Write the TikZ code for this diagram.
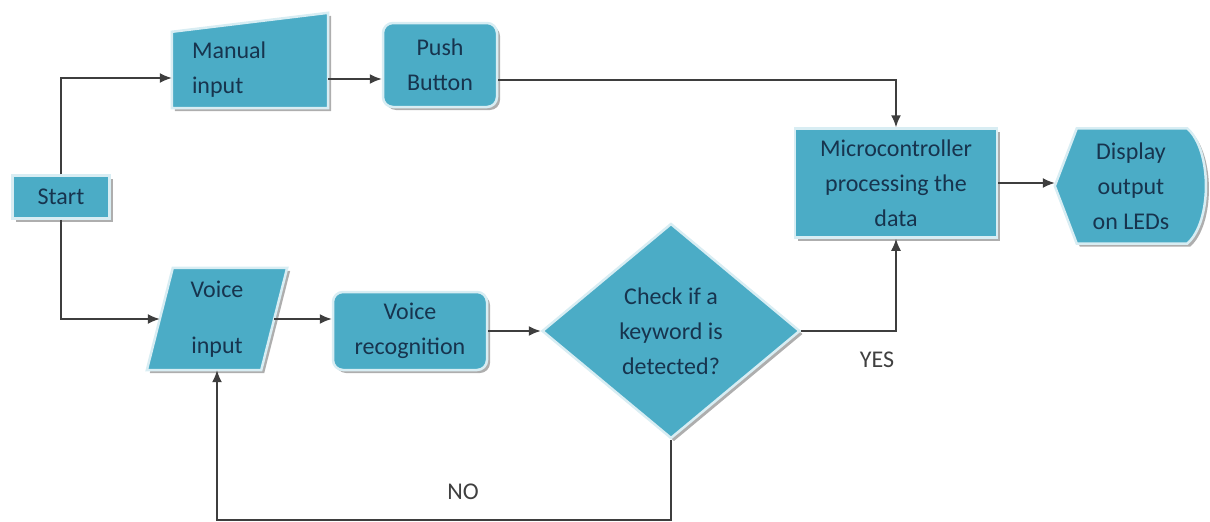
\documentclass[tikz,border=0pt]{standalone}
\usepackage{fontspec}
\setmainfont{Carlito}
\usepackage{tikz}
\usetikzlibrary{shapes,shapes.geometric,calc,shadows}
\usetikzlibrary{arrows.meta,positioning}
\definecolor{boxteal}{RGB}{75,172,198}
\definecolor{boxedge}{RGB}{216,237,243}
\definecolor{boxtext}{RGB}{23,52,78}
\definecolor{linegray}{RGB}{62,62,62}
\pgfdeclarelayer{background}
\pgfsetlayers{background,main}
\tikzset{
  blk/.style={fill=boxteal, draw=boxedge, line width=2.5pt, inner sep=0pt,
    text=boxtext, align=center, font=\fontsize{24}{35}\selectfont,
    drop shadow={shadow xshift=3pt, shadow yshift=-3pt, fill=black!45, opacity=0.7}},
  txtonly/.style={inner sep=0pt, text=boxtext, align=center,
    font=\fontsize{24}{35}\selectfont},
  arr/.style={draw=linegray, line width=1.6pt, -{Latex[length=12pt,width=10pt]}},
  lbl/.style={text=black!75, font=\fontsize{24}{30}\selectfont}
}

\begin{document}
\begin{tikzpicture}[x=1pt, y=-1pt]
        \useasboundingbox (0,0) rectangle (1210,522);
        % Define blocks
        \node[blk, minimum width=97pt, minimum height=43pt] (start) at (61,197) {Start};
        \node[txtonly, minimum width=156pt, minimum height=76pt, text width=116pt, align=left] (manual) at (250,70) {Manual\\input};
        \node[blk, rounded corners=10pt, minimum width=114pt, minimum height=84pt] (push) at (440,65) {Push\\Button};
        \node[blk, minimum width=202pt, minimum height=109pt] (micro) at (896,183) {Microcontroller\\processing the\\data};
        \node[txtonly, minimum width=152pt, minimum height=115pt] (disp) at (1131,186) {Display\\output\\on LEDs};
        \node[txtonly, minimum width=114pt, minimum height=102pt] (vin) at (217,319) {Voice\\[21pt]input};
        \node[blk, rounded corners=10pt, minimum width=154pt, minimum height=78pt] (vrec) at (410,331) {Voice\\recognition};
        \node[blk, diamond, minimum width=258pt, minimum height=215pt] (chk) at (671,331) {Check if a\\keyword is\\detected?};
        % Shapes behind the text
        \begin{pgfonlayer}{background}
        \path[blk] (manual.south west) -- (manual.south east) -- ([yshift=19pt]manual.north east) -- (manual.north west) -- cycle;
        \path[blk] ([xshift=13pt]vin.north west) -- ([xshift=13pt]vin.north east) -- ([xshift=-13pt]vin.south east) -- ([xshift=-13pt]vin.south west) -- cycle;
        \path[blk] (disp.west) -- ([xshift=22pt]disp.north west) -- ([xshift=-20pt]disp.north east)
        .. controls ([shift={(5pt,-22pt)}]disp.north east) and ([shift={(5pt,22pt)}]disp.south east) .. ([xshift=-20pt]disp.south east)
        -- ([xshift=22pt]disp.south west) -- cycle;
        \end{pgfonlayer}
        % Connectors
        \draw[arr] (start.north) |- ([yshift=-8pt]manual.west);
        \draw[arr] ([yshift=-9pt]manual.east) -- ([yshift=-14pt]push.west);
        \draw[arr] ([yshift=-15pt]push.east) -| (micro.north);
        \draw[arr] (micro.east) -- (micro.east -| disp.west);
        \draw[arr] (start.south) |- (vin.west);
        \draw[arr] (vin.east) -- (vin.east -| vrec.west);
        \draw[arr] (vrec.east) -- (chk.west);
        \draw[arr] (chk.east) -| (micro.south);
        \draw[arr] (chk.south) -- ++(0,80) -| (vin.south);
        % Labels
        \node[lbl] (yes) at (877,360) {YES};
        \node[lbl] (no) at (463,492) {NO};
\end{tikzpicture}
\end{document}
